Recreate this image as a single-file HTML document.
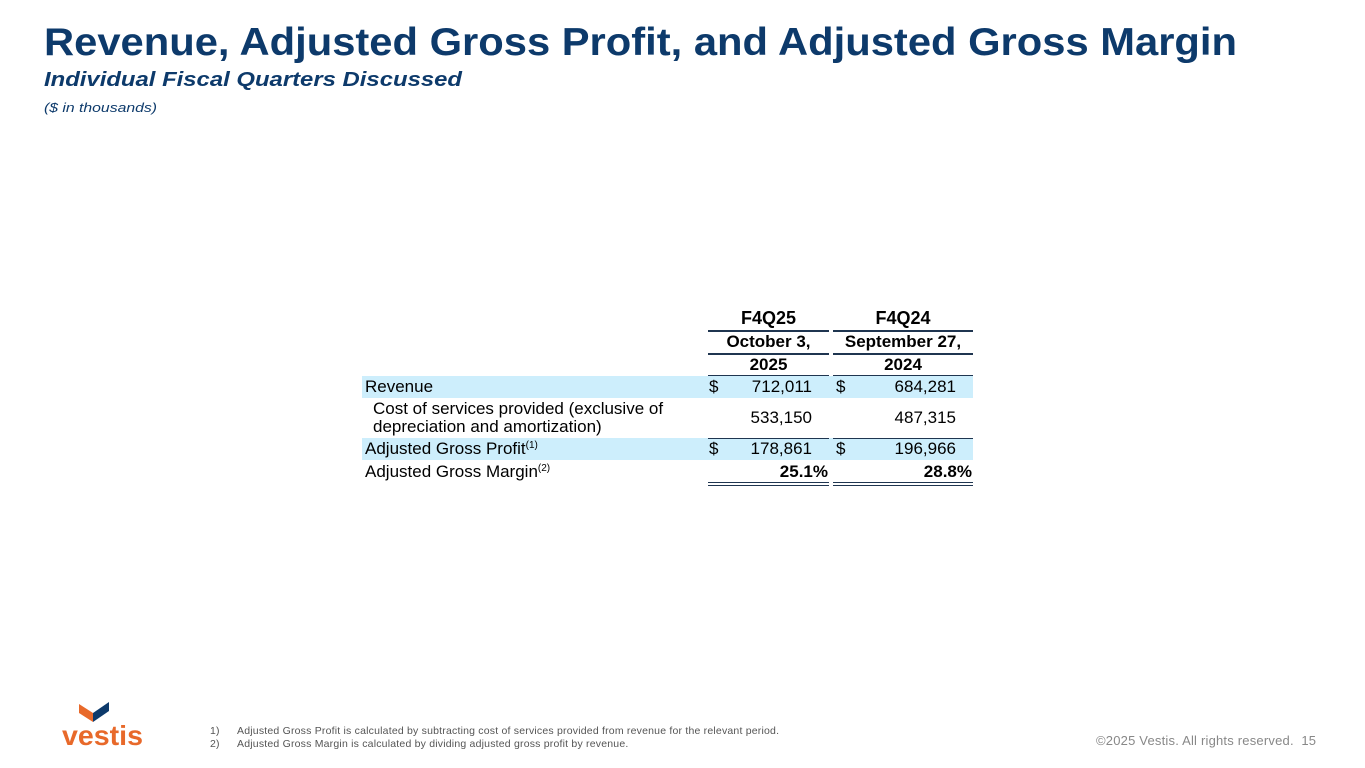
<!DOCTYPE html>
<html><head><meta charset="utf-8"><style>
body{margin:0;width:1365px;height:768px;background:#fff;position:relative;overflow:hidden;font-family:"Liberation Sans",Arial,sans-serif}
.a{position:absolute;white-space:nowrap}
.t{font-size:17px;color:#000}
.b{font-weight:bold}
.hl{position:absolute;left:362px;width:611px;height:22px;background:#cdeefc}
.ln{position:absolute;height:2px;background:#1f3550}
.c{text-align:center}
.r{text-align:right}
sup{font-size:10px;vertical-align:6px}
</style></head><body>
<svg class="a" style="left:0;top:0" width="1365" height="130">
<text x="44" y="55" font-family="Liberation Sans" font-weight="bold" font-size="39" fill="#0d3a6b" textLength="1193" lengthAdjust="spacingAndGlyphs">Revenue, Adjusted Gross Profit, and Adjusted Gross Margin</text>
<text x="44" y="86" font-family="Liberation Sans" font-weight="bold" font-style="italic" font-size="20" fill="#0d3a6b" textLength="418" lengthAdjust="spacingAndGlyphs">Individual Fiscal Quarters Discussed</text>
<text x="44" y="112" font-family="Liberation Sans" font-style="italic" font-size="13" fill="#0d3a6b" textLength="113" lengthAdjust="spacingAndGlyphs">($ in thousands)</text>
</svg>

<div>
<div class="hl" style="top:376px"></div>
<div class="hl" style="top:438px"></div>

<div class="a t b c" style="left:708px;width:121px;top:308px;font-size:18px">F4Q25</div>
<div class="a t b c" style="left:833px;width:140px;top:308px;font-size:18px">F4Q24</div>
<div class="ln" style="left:708px;width:121px;top:330px"></div>
<div class="ln" style="left:833px;width:140px;top:330px"></div>
<div class="a t b c" style="left:708px;width:121px;top:332px">October 3,</div>
<div class="a t b c" style="left:833px;width:140px;top:332px">September 27,</div>
<div class="ln" style="left:708px;width:121px;top:353px"></div>
<div class="ln" style="left:833px;width:140px;top:353px"></div>
<div class="a t b c" style="left:708px;width:121px;top:355px">2025</div>
<div class="a t b c" style="left:833px;width:140px;top:355px">2024</div>
<div class="ln" style="left:708px;width:121px;top:375px;height:1px"></div>
<div class="ln" style="left:833px;width:140px;top:375px;height:1px"></div>

<div class="a t" style="left:365px;top:377px">Revenue</div>
<div class="a t" style="left:709px;top:377px">$</div>
<div class="a t r" style="left:720px;width:92px;top:377px">712,011</div>
<div class="a t" style="left:836px;top:377px">$</div>
<div class="a t r" style="left:850px;width:106px;top:377px">684,281</div>

<div class="a t" style="left:373px;top:400px;line-height:18px">Cost of services provided (exclusive of<br>depreciation and amortization)</div>
<div class="a t r" style="left:720px;width:92px;top:408px">533,150</div>
<div class="a t r" style="left:850px;width:106px;top:408px">487,315</div>
<div class="ln" style="left:708px;width:121px;top:438px;height:1px"></div>
<div class="ln" style="left:833px;width:140px;top:438px;height:1px"></div>

<div class="a t" style="left:365px;top:439px">Adjusted Gross Profit<sup>(1)</sup></div>
<div class="a t" style="left:709px;top:439px">$</div>
<div class="a t r" style="left:720px;width:92px;top:439px">178,861</div>
<div class="a t" style="left:836px;top:439px">$</div>
<div class="a t r" style="left:850px;width:106px;top:439px">196,966</div>

<div class="a t" style="left:365px;top:462px">Adjusted Gross Margin<sup>(2)</sup></div>
<div class="a t b r" style="left:708px;width:120px;top:462px">25.1%</div>
<div class="a t b r" style="left:833px;width:139px;top:462px">28.8%</div>
<div class="ln" style="left:708px;width:121px;top:482px;height:1px"></div>
<div class="ln" style="left:833px;width:140px;top:482px;height:1px"></div>
<div class="ln" style="left:708px;width:121px;top:485px;height:1px"></div>
<div class="ln" style="left:833px;width:140px;top:485px;height:1px"></div>
</div>

<svg class="a" style="left:60px;top:700px" width="90" height="50">
<polygon points="19,4 33,13 33,22 19,13" fill="#e8692a"/>
<polygon points="33,13 49,2 49,11 33,22" fill="#0d3a6b"/>
<text x="2" y="45" font-family="Liberation Sans" font-weight="bold" font-size="28" fill="#e8692a" textLength="81" lengthAdjust="spacingAndGlyphs">vestis</text>
</svg>

<div class="a" style="left:210px;top:725px;font-size:10.5px;letter-spacing:0.2px;color:#555;line-height:13px">
<span style="display:inline-block;width:27px">1)</span>Adjusted Gross Profit is calculated by subtracting cost of services provided from revenue for the relevant period.<br>
<span style="display:inline-block;width:27px">2)</span>Adjusted Gross Margin is calculated by dividing adjusted gross profit by revenue.
</div>
<div class="a" style="left:1096px;top:733px;font-size:13px;color:#888;letter-spacing:0.2px">©2025 Vestis. All rights reserved.&nbsp; 15</div>
</body></html>
